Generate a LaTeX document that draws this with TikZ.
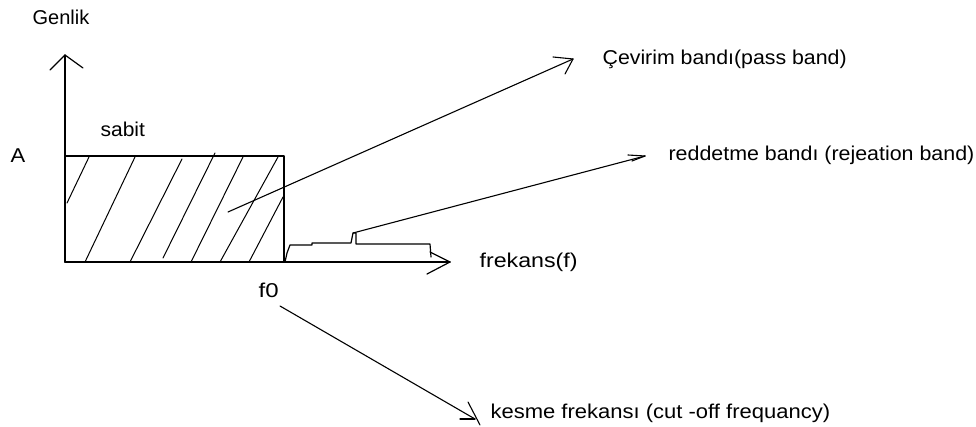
\documentclass[tikz,border=0pt]{standalone}
\usepackage{graphicx}
\usepackage{fontspec}
\setmainfont{Liberation Sans}
\newcommand\sxtext[2]{\scalebox{#1}[1]{#2}}
\begin{document}
\begin{tikzpicture}[x=1pt,y=-1pt,line width=1.2pt,line cap=round,line join=round,
  lbl/.style={anchor=base west,inner sep=0pt,font=\fontsize{20}{24}\selectfont},
  hatch/.style={line width=1pt},
  pointer/.style={line width=1.1pt}]
\useasboundingbox (0,0) rectangle (976,427);
% labels
\node[lbl] (genlik) at (32,25) {\sxtext{1.0}{Genlik}};
\node[lbl] (A) at (10,163) {\sxtext{1.1}{A}};
\node[lbl] (sabit) at (100,137) {\sxtext{1.05}{sabit}};
\node[lbl] (cevirim) at (602,65) {\sxtext{1.066}{Çevirim bandı(pass band)}};
\node[lbl] (reddetme) at (668,161) {\sxtext{1.07}{reddetme bandı (rejeation band)}};
\node[lbl] (frekans) at (479,268) {\sxtext{1.16}{frekans(f)}};
\node[lbl] (f0) at (258,298) {\sxtext{1.2}{f0}};
\node[lbl] (kesme) at (490,418) {\sxtext{1.1}{kesme frekansı (cut -off frequancy)}};
% coordinates
\coordinate (O) at (65,262);
\coordinate (ytip) at (65,55);
\coordinate (xtip) at (450,262);
\coordinate (pbstart) at (228,212);
\coordinate (pbtip) at (573,59);
\coordinate (rbstart) at (353,233);
\coordinate (rbtip) at (645,156);
\coordinate (fostart) at (280,306);
\coordinate (fotip) at (475,419);
% axes
\draw (O) -- (ytip);
\draw (ytip) -- ++(-15,15);
\draw (ytip) -- ++(18,13);
\draw (O) -- (xtip);
\draw (xtip) -- ++(-20,-10);
\draw (xtip) -- ++(-23,12);
% pass band rectangle
\draw (65,156) rectangle (284,262);
% hatching
\draw[hatch] (67,203) -- (89,157);
\draw[hatch] (85,262) -- (135,157);
\draw[hatch] (130,262) -- (182,159);
\draw[hatch] (163,258) -- (215,153);
\draw[hatch] (191,262) -- (243,157);
\draw[hatch] (220,262) -- (278,157);
\draw[hatch] (249,262) -- (283,197);
% rejection band step curve
\draw (285,262) -- (287,253) -- (290,245) -- (312,245) -- (312,243) -- (351,243)
  -- (353,233) -- (356,233) -- (356,244) -- (430,244) -- (431,257);
% pointer arrows
\draw[pointer] (pbstart) -- (pbtip);
\draw[pointer] (pbtip) -- ++(-20,-2);
\draw[pointer] (pbtip) -- ++(-8,15);
\draw[pointer] (rbstart) -- (rbtip);
\draw[pointer] (rbtip) -- ++(-17,-1);
\draw[pointer] (rbtip) -- ++(-13,5);
\draw[pointer] (fostart) -- (fotip);
\draw[pointer] (fotip) -- ++(-15,0);
\draw[pointer] (fotip) ++(-7,-17) -- ++(12,23);
\end{tikzpicture}
\end{document}
